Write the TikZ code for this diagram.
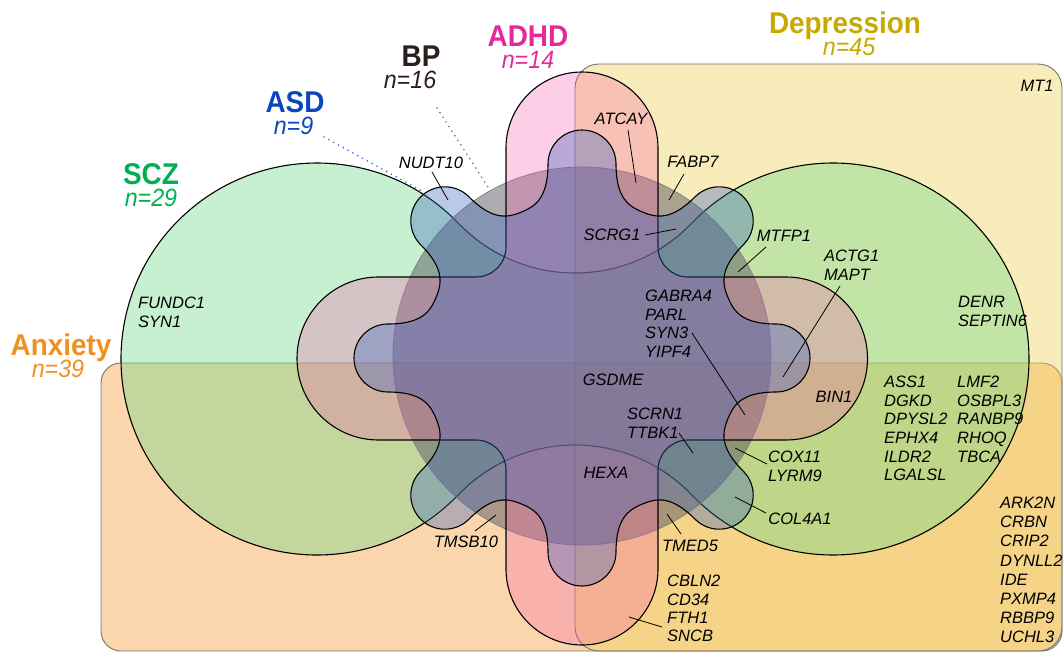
\documentclass[tikz,border=0pt]{standalone}
\usepackage{fontspec}
\setmainfont{Liberation Sans}
\newfontfamily\condfont[FakeStretch=0.93]{Liberation Sans}
\usetikzlibrary{calc}
\definecolor{cDep}{RGB}{238,208,83}
\definecolor{cAnx}{RGB}{244,150,45}
\definecolor{cScz}{RGB}{112,217,135}
\definecolor{cBp}{RGB}{90,90,100}
\definecolor{cAdhd}{RGB}{245,95,175}
\definecolor{cAsd}{RGB}{60,100,190}
\definecolor{tScz}{RGB}{0,176,80}
\definecolor{tAsd}{RGB}{10,70,190}
\definecolor{tBp}{RGB}{45,30,30}
\definecolor{tAdhd}{RGB}{230,40,155}
\definecolor{tDep}{RGB}{198,170,0}
\definecolor{tAnx}{RGB}{240,145,30}
\definecolor{dotBlue}{RGB}{50,110,220}
\definecolor{dotGray}{RGB}{110,110,110}
\newcommand\mysetlabelfont{\condfont\itshape\fontsize{25}{22}\selectfont\lineskiplimit=-100pt\lineskip=0pt\relax}
\newcommand\mysetttl{\bfseries\upshape\fontsize{30}{22}\selectfont}
\newcommand\mysetcnt{\itshape\mdseries\fontsize{25}{22}\selectfont}
\begin{document}
\begin{tikzpicture}[x=1pt,y=-1pt,
  outl/.style={line width=1.1pt, draw=black},
  depbox/.style={fill=cDep, fill opacity=0.4, draw=black!55, line width=0.9pt, rounded corners=24pt},
  anxbox/.style={fill=cAnx, fill opacity=0.4, draw=black!55, line width=0.9pt, rounded corners=20pt},
  sczshape/.style={outl, fill=cScz, fill opacity=0.4},
  bpshape/.style={fill=cBp, fill opacity=0.5, draw=black!50, line width=0.8pt},
  adhdshape/.style={outl, fill=cAdhd, fill opacity=0.3},
  asdshape/.style={outl, fill=cAsd, fill opacity=0.35},
  gene/.style={font=\fontsize{16.5}{18.6}\selectfont\itshape, inner sep=0pt, align=left, text=black},
  setlabel/.style={font=\mysetlabelfont, inner sep=0pt, align=center, anchor=north},
  leader/.style={line width=0.8pt, draw=black},
  dotline/.style={line width=1.8pt, line cap=round, dash pattern=on 0pt off 5.5pt},
]
\useasboundingbox (0,0) rectangle (1063,653);

% Anxiety and Depression
\draw[anxbox] (101,363) rectangle (1062,651);
\draw[depbox] (575,64) rectangle (1062,651);

% SCZ (two circles joined by a waist)
\draw[sczshape] (458.4,223.3) arc[start angle=-43.82, end angle=-316.18, radius=196]
  arc[start angle=223.82, end angle=316.18, radius=161.6]
  arc[start angle=136.18, end angle=-136.18, radius=196]
  arc[start angle=43.82, end angle=136.18, radius=161.6] -- cycle;

% BP
\draw[bpshape] (582,356) circle[radius=189];

% ADHD (four lobes)
\draw[adhdshape] (506,148) arc[start angle=180, end angle=360, radius=76]
  -- (658,247) .. controls (658,263.6) and (671.4,277) .. (688,277)
  -- (786,277) arc[start angle=-90, end angle=90, radius=81.5]
  -- (688,440) .. controls (671.4,440) and (658,453.4) .. (658,470)
  -- (658,569) arc[start angle=0, end angle=180, radius=76]
  -- (506,470) .. controls (506,453.4) and (492.6,440) .. (476,440)
  -- (378.5,440) arc[start angle=90, end angle=270, radius=81.5]
  -- (476,277) .. controls (492.6,277) and (506,263.6) .. (506,247) -- cycle;

% ASD (eight lobes)
\begin{scope}[shift={(582,358)}]
\draw[asdshape] (-22.5:158) \foreach \a in {0,45,...,315} {
  .. controls (\a-17.08:158.7) and (\a-12:163.6) .. (\a-9.94:197)
  .. controls (\a-9.08:215.5) and (\a-4.71:228.8) .. (\a:228)
  .. controls (\a+4.71:228.8) and (\a+9.08:215.5) .. (\a+9.94:197)
  .. controls (\a+12:163.6) and (\a+17.08:158.7) .. (\a+22.5:158)
} -- cycle;
\end{scope}

% Set labels
\node[setlabel, text=tScz] (lscz) at (151,163) {{\mysetttl SCZ}\\{\mysetcnt n=29}};
\node[setlabel, text=tAsd] (lasd) at (295,91) {{\mysetttl ASD}\\{\mysetcnt n=9\hspace*{3pt}}};
\node[setlabel, text=tBp] (lbp) at (421,46) {{\mysetttl BP}\\{\mysetcnt n=16\hspace*{22pt}}};
\node[setlabel, text=tAdhd] (ladhd) at (528,26) {{\mysetttl ADHD}\\{\mysetcnt n=14}};
\node[setlabel, text=tDep] (ldep) at (845,12) {{\mysetttl Depression}\\{\mysetcnt \hspace*{8pt}n=45}};
\node[setlabel, text=tAnx] (lanx) at (61,334) {{\mysetttl Anxiety}\\{\mysetcnt n=39\hspace*{6pt}}};

% dotted pointers
\coordinate (asdDotA) at (324,137);
\coordinate (asdDotB) at (422,191);
\coordinate (bpDotA) at (437,108);
\coordinate (bpDotB) at (488,187);
\draw[dotline, dotBlue] (asdDotA) -- (asdDotB);
\draw[dotline, dotGray] (bpDotA) -- (bpDotB);

% Genes
\node[gene] (nudt) at (431,163) {NUDT10};
\node[gene, anchor=north west] (fundc) at (138,297) {FUNDC1\\SYN1};
\node[gene] (atcay) at (621,119) {ATCAY};
\node[gene] (fabp) at (693,162) {FABP7};
\node[gene] (scrg) at (612,235) {SCRG1};
\node[gene] (mtfp) at (784,236) {MTFP1};
\node[gene, anchor=north west] (actg) at (824,250) {ACTG1\\MAPT};
\node[gene] (mt1) at (1037,86) {MT1};
\node[gene, anchor=north west] (gabra) at (645,290) {GABRA4\\PARL\\SYN3\\YIPF4};
\node[gene, anchor=north west] (denr) at (958,296) {DENR\\SEPTIN6};
\node[gene] (gsdme) at (613,380) {GSDME};
\node[gene] (bin) at (834,397) {BIN1};
\node[gene, anchor=north west] (ass) at (884,376) {ASS1\\DGKD\\DPYSL2\\EPHX4\\ILDR2\\LGALSL};
\node[gene, anchor=north west] (lmf) at (957,376) {LMF2\\OSBPL3\\RANBP9\\RHOQ\\TBCA};
\node[gene, anchor=north west] (scrn) at (627,408) {SCRN1\\TTBK1};
\node[gene, anchor=north west] (cox) at (768,451) {COX11\\LYRM9};
\node[gene] (hexa) at (606,473) {HEXA};
\node[gene, anchor=north west, font=\fontsize{16.5}{19.1}\selectfont\itshape] (ark) at (1000,497) {ARK2N\\CRBN\\CRIP2\\DYNLL2\\IDE\\PXMP4\\RBBP9\\UCHL3};
\node[gene] (col) at (800,519) {COL4A1};
\node[gene] (tmsb) at (466,542) {TMSB10};
\node[gene] (tmed) at (690,546) {TMED5};
\node[gene, anchor=north west, font=\fontsize{16.5}{18.3}\selectfont\itshape] (cbln) at (667,575) {CBLN2\\CD34\\FTH1\\SNCB};

% leader targets
\coordinate (nudtP) at (448,200);
\coordinate (atcayP) at (636,183);
\coordinate (fabpP) at (669,200);
\coordinate (scrgP) at (676,229);
\coordinate (mtfpP) at (738,272);
\coordinate (actgP) at (783,377);
\coordinate (syn3P) at (745,415);
\coordinate (ttbkP) at (693,453);
\coordinate (coxP) at (735,448);
\coordinate (colP) at (735,497);
\coordinate (tmedP) at (667,514);
\coordinate (tmsbP) at (496,515);
\coordinate (fthP) at (629,617);

\draw[leader] ($(nudt)+(1,9)$) -- (nudtP);
\draw[leader] ($(atcay)+(7,11)$) -- (atcayP);
\draw[leader] ($(fabp)+(-9,12)$) -- (fabpP);
\draw[leader] ($(scrg)+(33,0)$) -- (scrgP);
\draw[leader] ($(mtfp)+(-18,11)$) -- (mtfpP);
\draw[leader] ($(actg.north west)+(16,36)$) -- (actgP);
\draw[leader] ($(gabra.north west)+(47,43)$) -- (syn3P);
\draw[leader] ($(scrn.north west)+(52,25)$) -- (ttbkP);
\draw[leader] ($(cox.north west)+(-1,13)$) -- (coxP);
\draw[leader] ($(col)+(-34,-6)$) -- (colP);
\draw[leader] ($(tmed)+(-9,-12)$) -- (tmedP);
\draw[leader] ($(tmsb)+(9,-11)$) -- (tmsbP);
\draw[leader] ($(cbln.north west)+(-5,52)$) -- (fthP);
\end{tikzpicture}
\end{document}
